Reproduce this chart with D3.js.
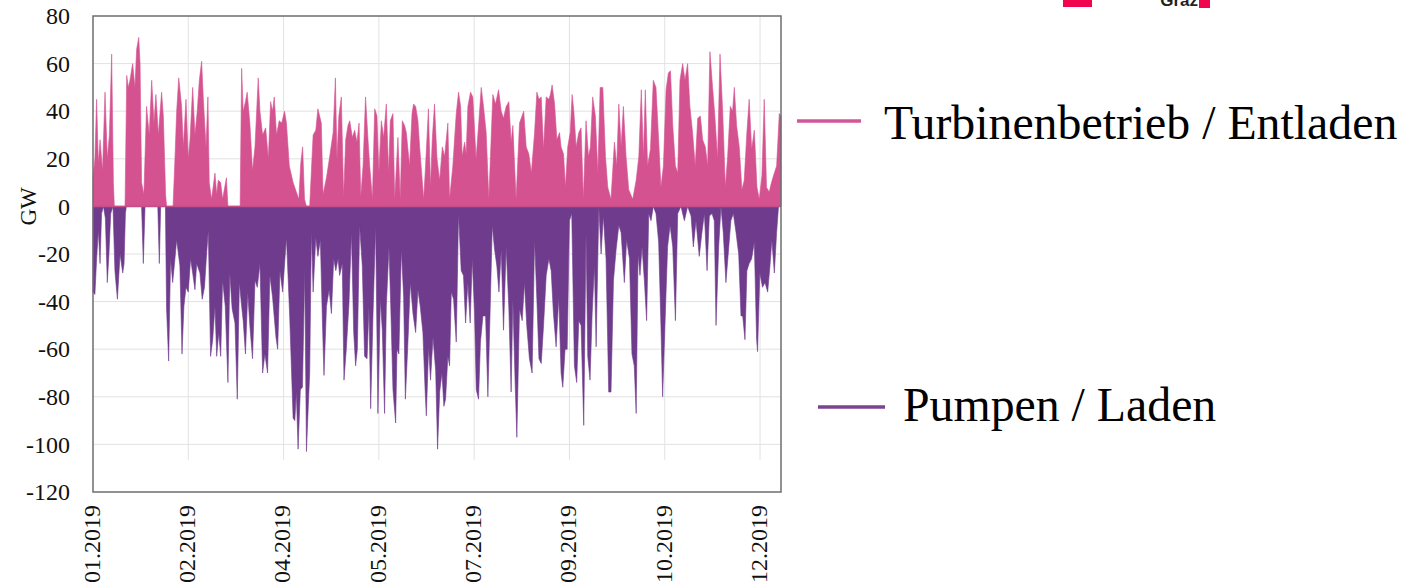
<!DOCTYPE html>
<html>
<head>
<meta charset="utf-8">
<script src="https://cdn.jsdelivr.net/npm/d3@7"></script>
<style>
  body { margin: 0; background: #fff; }
  svg { display: block; }
</style>
</head>
<body>
<svg id="chart"></svg>
<script>
// [day of year (0 = 01.01.2019), GW]
var turbine = [[0,12],[1,20],[1.9,45],[2.8,18],[3.7,28],[5,15],[6.3,48],[7.5,20],[8.6,30],[9.8,64],[10.7,10],[11.2,0],[16.8,0],
  [17.7,55],[18.5,50],[19.4,53],[20.8,60],[22,50],[22.9,66],[24,71],[24.7,60],[25.5,10],[26.7,5],[28.1,42],[29.5,30],[30.8,53],
  [32,35],[33,47],[34.3,30],[36,48],[36.9,38],[38.1,5],[38.6,0],[42,0],[43,20],[43.9,40],[45,54],[46.5,42],[47.4,25],[48.8,45],
  [50,20],[50.9,28],[52.3,50],[53.5,30],[54.7,40],[55.8,53],[57,61],[57.9,45],[59.3,25],[60.3,46],[61,10],[62.2,3],[64,14],
  [64.9,5],[65.7,11],[67,10],[68,3],[70,12],[70.8,0],[77.2,0],[78,58],[78.8,40],[80,44],[80.9,48],[82.3,35],[83.7,15],[85,25],
  [86.7,54],[87.6,40],[89,30],[90.6,33],[92,20],[93.2,44],[94.2,40],[95.1,46],[96.3,30],[97.7,36],[99,35],[100.5,40],[101.5,35],
  [103,17],[105,10],[106.7,6],[108,3],[109,18],[110,25],[111,3],[112,0],[113.7,0],[115.5,30],[116.9,32],[118,41],[119.8,35],
  [120.7,5],[122.5,12],[124.2,21],[126,31],[127.2,54],[128,20],[129,38],[130.3,46],[131.5,4],[132.6,28],[133.8,34],[134.7,36],
  [136.1,29],[137.3,32],[138.5,27],[139.6,35],[140.5,4],[141.7,17],[143,46],[144.3,28],[145.2,17],[146.6,3],[147.8,41],[149,38],
  [150,14],[151.3,36],[152.5,29],[153.9,43],[155.1,14],[156,36],[157.4,39],[158.3,3],[160,29],[161.2,3],[162.3,36],[163.5,34],
  [164.4,31],[166.1,17],[167.4,39],[168.2,43],[169.3,42],[170.5,36],[171.4,25],[173.5,3],[174.5,17],[176,41],[177.1,8],[178,28],
  [179.2,43],[180.5,20],[181.9,11],[183.3,25],[184.5,21],[186.2,35],[187.1,3],[188.8,17],[190.6,39],[191.8,48],[192.9,42],
  [193.7,21],[195,27],[195.8,22],[196.7,42],[198.1,48],[199.3,46],[201,20],[202.5,36],[203.7,50],[204.9,42],[206.3,31],[207.7,3],
  [209.8,47],[211.2,43],[212.8,49],[214.2,40],[215.4,37],[216.8,42],[218.2,44],[219.4,27],[220.3,34],[222,3],[223.8,35],[226,40],
  [227.3,25],[228.7,22],[230,14],[231.7,31],[232.9,48],[234,45],[235.2,46],[236.4,24],[237.8,46],[239.2,45],[240,47],[240.9,51],
  [242.2,43],[243.4,28],[244.8,31],[245.6,25],[246.9,22],[247.9,8],[249.1,25],[250.4,31],[251.4,47],[252.3,40],[253.5,25],
  [254.9,31],[256.1,33],[257.3,3],[258.7,36],[260,21],[261,25],[262.2,46],[263.6,38],[264.9,14],[266.1,50],[267.5,50],[268.9,21],
  [270.1,8],[271.8,3],[273.6,27],[274.8,17],[275.9,43],[277.1,25],[278.3,42],[279.7,21],[281.1,7],[283.2,3],[285,11],[286.4,21],
  [287.7,49],[288.8,21],[289.8,49],[291,17],[292.5,24],[294,53],[295.4,50],[296.8,28],[298,8],[299.3,17],[300.7,49],[301.9,56],
  [303,57],[304.2,34],[305.6,17],[306.8,14],[308,53],[309.4,60],[310.6,53],[312,60],[313.2,42],[314.6,31],[316,17],[317.3,37],
  [318.7,38],[319.9,28],[321.3,25],[322.5,17],[323.7,65],[325.1,50],[326.3,38],[327.7,20],[329,64],[330.4,40],[331.8,8],[333,21],
  [334.4,42],[335.6,40],[336.5,50],[337.7,34],[339.1,25],[340.5,7],[341.7,11],[343.1,31],[344.3,45],[345.6,24],[347,32],[348.4,8],
  [349.6,3],[351,13],[352.2,45],[353.4,8],[354.8,6],[356,10],[357.5,14],[358.7,17],[360.1,39],[361,38]];

var pumping = [[0,-36],[1,-37],[1.9,-22],[2.8,-10],[3.7,-24],[4.5,-3],[5.5,0],[6.5,-5],[7.5,-32],[8.3,-21],[9.3,-3],[10.5,0],
  [11.5,-27],[12.8,-39],[14.2,-20],[15.6,-28],[16.3,-24],[17,-3],[17.5,0],[25.5,0],[26.4,-24],[27.3,0],[34,0],[34.8,-24],[35.5,0],
  [38,0],[38.6,-43],[39.7,-65],[40.7,-22],[41.8,-32],[43,-22],[43.9,-14],[45.6,-25],[46.7,-62],[47.7,-42],[48.8,-34],[50,-36],
  [51.2,-22],[52.3,-28],[53.5,-35],[54.4,-24],[56.1,-28],[57.3,-39],[58.5,-34],[59.6,-20],[60.5,-10],[61.7,-63],[62.8,-56],[64,-42],
  [64.9,-63],[66,-53],[67,-63],[68,-31],[69.4,-42],[70.8,-74],[71.8,-28],[73,-43],[74.5,-49],[75.7,-81],[76.8,-32],[78,-42],
  [78.8,-48],[80,-62],[81.2,-36],[82.3,-50],[83.7,-64],[85,-31],[86.2,-34],[87.6,-24],[89,-70],[90.2,-62],[91.6,-70],[92.8,-29],
  [94.2,-38],[96,-55],[96.9,-60],[98.1,-27],[99.5,-36],[101.5,-13],[103.2,-46],[105,-89],[105.9,-90],[106.7,-78],[107.6,-102],
  [108.8,-77],[109.9,-76],[111.1,-27],[112,-103],[112.8,-87],[113.7,-70],[114.6,-10],[115.5,-36],[116.9,-13],[118,-21],[119.3,-14],
  [120.4,-49],[121.2,-71],[122.5,-42],[123.9,-35],[125.1,-45],[126.3,-22],[127.4,-27],[128.6,-22],[129.4,-29],[130.8,-24],
  [131.7,-73],[132.9,-60],[134.3,-41],[135.6,-11],[136.8,-53],[137.8,-67],[138.7,-60],[139.9,-8],[141.3,-25],[142.5,-63],
  [143.8,-64],[144.8,-42],[145.7,-85],[146.9,-46],[148.3,-8],[149.5,-87],[150.8,-39],[151.8,-52],[153,-87],[153.9,-42],[155.3,-17],
  [156.2,-41],[157.4,-77],[158.8,-91],[159.5,-60],[160.5,-62],[161.8,-18],[163,-38],[163.9,-81],[165.3,-56],[166.5,-32],
  [167.9,-45],[169.3,-53],[170.5,-35],[171.7,-42],[173.1,-53],[174.3,-78],[174.9,-88],[176.1,-59],[177.1,-73],[178.4,-55],
  [179.8,-69],[180.8,-102],[181.9,-78],[183.1,-70],[184.1,-84],[185,-81],[186.2,-63],[187.1,-67],[188,-36],[189.2,-39],[190.6,-57],
  [191.8,-3],[193.2,-27],[194.4,-29],[195.5,-49],[196.7,-32],[197.9,-49],[199,-22],[200.2,-45],[201.1,-77],[202.3,-81],[203.3,-57],
  [204.6,-46],[206,-46],[207.2,-80],[208.4,-43],[209.5,-8],[210.7,-18],[211.9,-25],[213,-36],[214.2,-18],[215.4,-52],[216.8,-17],
  [218.2,-43],[219.4,-78],[220.3,-39],[221.5,-74],[222.4,-97],[223.8,-43],[225.2,-48],[226.4,-32],[227.6,-50],[229,-64],[230.4,-70],
  [231.7,-14],[232.9,-39],[234,-64],[235.2,-66],[236.4,-50],[237.8,-29],[239.2,-22],[240.4,-27],[241.6,-45],[243,-59],[244.4,-38],
  [245.6,-70],[246.5,-76],[247.7,-60],[248.8,-60],[250,-6],[251.2,-3],[252.6,-67],[253.8,-74],[254.9,-48],[256.1,-50],[257.5,-92],
  [258.7,-11],[259.6,-63],[260.8,-73],[261.9,-45],[263.1,-25],[264,-59],[265.4,0],[266.6,-20],[267.8,-4],[269.2,-22],[270.6,-78],
  [271.8,-78],[273.1,-31],[274.5,-18],[275.9,-8],[277.1,-11],[278.8,-32],[280,-14],[281.5,-22],[282.8,-62],[284,-67],[285,-87],
  [286,-20],[287,-29],[288.1,-17],[289.3,-31],[290.5,-48],[291.6,-3],[292.8,-6],[294,0],[295.4,-3],[296.8,-15],[298,-50],[298.9,-80],
  [300.1,-50],[301.5,-17],[302.8,-8],[304.2,-17],[305.6,-48],[306.8,-3],[308.5,0],[310.3,-6],[312,0],[313.8,-4],[315,-17],
  [316.4,-6],[318.1,-21],[319.5,-11],[320.8,-3],[322.2,-27],[323.4,-4],[324.8,-3],[326,-6],[326.9,-50],[328.3,-17],[329.5,0],
  [330.7,-11],[332.1,-32],[333.5,-18],[334.7,-6],[336,-3],[337.4,-11],[338.8,-20],[340,-46],[340.9,-46],[342.1,-56],[343.1,-27],
  [344.3,-24],[345.6,-22],[347,-15],[348.2,-56],[348.7,-61],[349.9,-28],[351.3,-34],[352.6,-32],[354,-36],[355.2,-25],[356.2,-14],
  [357.5,-28],[358.7,-11],[359.7,0],[361,0]];

var tickDays = [0, 50, 100, 150, 200, 250, 300, 350];
var yTicks = [80, 60, 40, 20, 0, -20, -40, -60, -80, -100, -120];
var legendLabels = ["Turbinenbetrieb / Entladen", "Pumpen / Laden"];
var lastDay = 361;

var colPos = "#d55291", colNeg = "#6f3b8c";

// dimensions
var margin = {top: 16, right: 641, bottom: 95, left: 93},
    width = 1422 - margin.left - margin.right,
    height = 587 - margin.top - margin.bottom;

var svgRoot = d3.select("#chart")
  .attr("width", 1422)
  .attr("height", 587)
  .style("font-family", "'Liberation Serif', 'Times New Roman', serif");

var svg = svgRoot.append("g")
  .attr("transform", "translate(" + margin.left + "," + margin.top + ")");

var start = Date.UTC(2019, 0, 1);
function dayDate(d) { return new Date(start + d * 86400000); }

var x = d3.scaleUtc()
  .domain([dayDate(0), dayDate(lastDay)])
  .range([0, width]);

var y = d3.scaleLinear()
  .domain([-120, 80])
  .range([height, 0]);

// grid
svg.append("g")
  .selectAll("line")
  .data(yTicks.slice(1, -1))
  .enter().append("line")
  .attr("x1", 0).attr("x2", width)
  .attr("y1", function(d) { return y(d); })
  .attr("y2", function(d) { return y(d); })
  .attr("stroke", "#e2e2e2").attr("stroke-width", 1);

svg.append("g")
  .selectAll("line")
  .data(tickDays.slice(1))
  .enter().append("line")
  .attr("x1", function(d) { return x(dayDate(d)); })
  .attr("x2", function(d) { return x(dayDate(d)); })
  .attr("y1", 0).attr("y2", y(-106.5))
  .attr("stroke", "#e2e2e2").attr("stroke-width", 1);

// areas
var area = d3.area()
  .x(function(d) { return x(dayDate(d[0])); })
  .y0(y(0))
  .y1(function(d) { return y(d[1]); });

svg.append("path").datum(pumping)
  .attr("d", area).attr("fill", colNeg)
  .attr("stroke", colNeg).attr("stroke-width", 0.6);

svg.append("path").datum(turbine)
  .attr("d", area).attr("fill", colPos)
  .attr("stroke", colPos).attr("stroke-width", 0.6);

// zero line
svg.append("line")
  .attr("x1", 0).attr("x2", width)
  .attr("y1", y(0)).attr("y2", y(0))
  .attr("stroke", "#c64d86").attr("stroke-width", 1.5);

// frame
svg.append("rect")
  .attr("x", 0).attr("y", 0)
  .attr("width", width).attr("height", height)
  .attr("fill", "none")
  .attr("stroke", "#6e6e6e").attr("stroke-width", 1.5);

// y axis labels (plain hyphen minus like the original)
svg.append("g")
  .attr("transform", "translate(-23,0)")
  .call(d3.axisLeft(y).tickValues(yTicks).tickFormat(function(d) { return String(d); }).tickSize(0).tickPadding(0))
  .call(function(g) { g.select(".domain").remove(); })
  .selectAll("text")
  .attr("font-family", "'Liberation Serif', serif")
  .attr("font-size", "24px")
  .attr("fill", "#111");

// x axis labels
svg.append("g")
  .attr("transform", "translate(0," + height + ")")
  .call(d3.axisBottom(x).tickValues(tickDays.map(dayDate)).tickFormat(d3.utcFormat("%m.%Y")).tickSize(0))
  .call(function(g) { g.select(".domain").remove(); })
  .selectAll("text")
  .attr("font-family", "'Liberation Serif', serif")
  .attr("font-size", "24px")
  .attr("fill", "#111")
  .attr("transform", "translate(-2,13)rotate(-90)")
  .attr("x", 0).attr("y", 0)
  .attr("dy", "0.35em")
  .style("text-anchor", "end");

svg.append("text")
  .attr("transform", "rotate(-90)")
  .attr("x", -y(0))
  .attr("y", -57)
  .attr("text-anchor", "middle")
  .attr("font-size", "23px")
  .attr("fill", "#111")
  .text("GW");

// legend
var legend = [
  {label: legendLabels[0], color: "#d4569a", x1: 797, x2: 861, ly: 121, tx: 884, ty: 139},
  {label: legendLabels[1], color: "#7b4390", x1: 818, x2: 885, ly: 407, tx: 903, ty: 421}
];
legend.forEach(function(l) {
  svgRoot.append("line")
    .attr("x1", l.x1).attr("x2", l.x2)
    .attr("y1", l.ly).attr("y2", l.ly)
    .attr("stroke", l.color).attr("stroke-width", 3.5);
  svgRoot.append("text")
    .attr("x", l.tx).attr("y", l.ty)
    .attr("font-size", "47.8px")
    .attr("fill", "#000")
    .text(l.label);
});

// logo remains at the top edge
svgRoot.append("rect").attr("x", 1063).attr("y", 0).attr("width", 29).attr("height", 7).attr("fill", "#f0064f");
svgRoot.append("rect").attr("x", 1199).attr("y", 0).attr("width", 11).attr("height", 8).attr("fill", "#f0064f");
svgRoot.append("text")
  .attr("x", 1198).attr("y", 6)
  .attr("text-anchor", "end")
  .attr("font-family", "'Liberation Sans', Arial, sans-serif")
  .attr("font-weight", "bold")
  .attr("font-size", "17px")
  .attr("fill", "#222")
  .text("Graz");
</script>
</body>
</html>
